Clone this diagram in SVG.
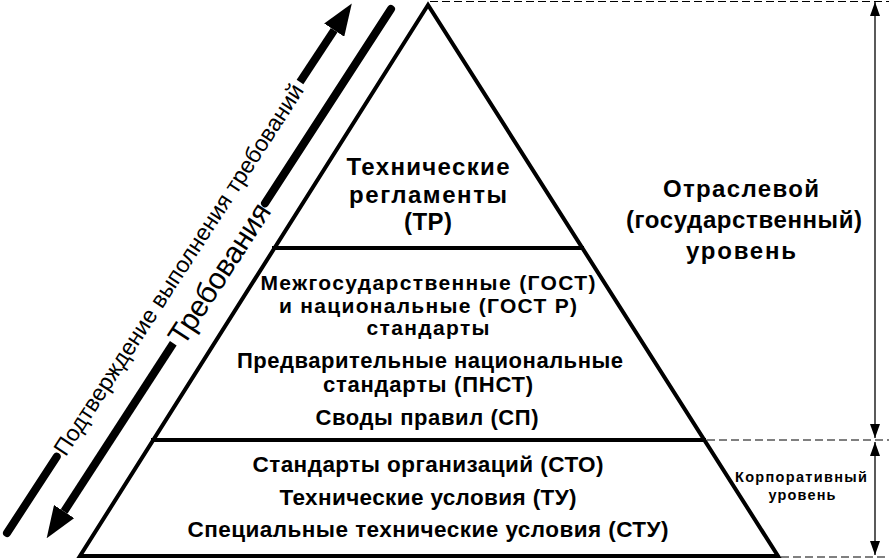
<svg xmlns="http://www.w3.org/2000/svg" width="889" height="560" viewBox="0 0 889 560">
<style>
  .t { font-family: "Liberation Sans", Arial, sans-serif; font-weight: bold; fill: #000; text-anchor: middle; }
  .r { font-family: "Liberation Sans", Arial, sans-serif; font-weight: normal; fill: #000; text-anchor: middle; }
  .edge { fill: none; stroke: #000; stroke-width: 4; stroke-linejoin: miter; }
  .thick { fill: none; stroke: #000; stroke-width: 8; }
  .dim { fill: none; stroke: #000; stroke-width: 1.3; }
  .dash { fill: none; stroke: #000; stroke-width: 1; stroke-dasharray: 8 4; }
</style>
<defs>
  <marker id="bigHead" markerUnits="userSpaceOnUse" viewBox="0 0 32 24" markerWidth="32" markerHeight="24" refX="0" refY="12" orient="auto">
    <path d="M0,0 L32,12 L0,24 z" fill="#000"/>
  </marker>
  <marker id="dimHead" markerUnits="userSpaceOnUse" viewBox="0 0 14 10" markerWidth="14" markerHeight="10" refX="14" refY="5" orient="auto-start-reverse">
    <path d="M0,0 L14,5 L0,10 z" fill="#000"/>
  </marker>
</defs>
<rect width="889" height="560" fill="#fff"/>

<g id="pyramid">
  <path class="edge" d="M428,5 L80,556 L778,556 Z"/>
  <line class="edge" x1="272" y1="248" x2="584" y2="248"/>
  <line class="edge" x1="151" y1="440" x2="706" y2="440"/>
</g>

<g id="tier-tr">
  <text class="t" font-size="24" x="428" y="175" textLength="163">Технические</text>
  <text class="t" font-size="24" x="428" y="203" textLength="158">регламенты</text>
  <text class="t" font-size="24" x="428" y="230" textLength="48">(ТР)</text>
</g>

<g id="tier-gost">
  <text class="t" font-size="21" x="428" y="290" textLength="335">Межгосударственные (ГОСТ)</text>
  <text class="t" font-size="21" x="428" y="313" textLength="298">и национальные (ГОСТ Р)</text>
  <text class="t" font-size="21" x="428" y="335" textLength="123">стандарты</text>
  <text class="t" font-size="22" x="430" y="368" textLength="386">Предварительные национальные</text>
  <text class="t" font-size="22" x="428" y="392" textLength="210">стандарты (ПНСТ)</text>
  <text class="t" font-size="22" x="427" y="425" textLength="223">Своды правил (СП)</text>
</g>

<g id="tier-sto">
  <text class="t" font-size="22.5" x="428" y="472" textLength="351">Стандарты организаций (СТО)</text>
  <text class="t" font-size="22.5" x="428" y="505" textLength="297">Технические условия (ТУ)</text>
  <text class="t" font-size="22.5" x="428" y="537" textLength="481">Специальные технические условия (СТУ)</text>
</g>

<g id="level-state">
  <text class="t" font-size="24" x="741" y="197" textLength="156">Отраслевой</text>
  <text class="t" font-size="24" x="744" y="228" textLength="236">(государственный)</text>
  <text class="t" font-size="24" x="741" y="259" textLength="110">уровень</text>
</g>

<g id="level-corp">
  <text class="t" font-size="14.5" x="801" y="482" textLength="132">Корпоративный</text>
  <text class="t" font-size="14.5" x="802" y="500" textLength="67">уровень</text>
</g>

<g id="label-confirm">
  <text class="r" font-size="23" dy="0.35em" textLength="438" transform="translate(178.4,269.4) rotate(-56.95)">Подтверждение выполнения требований</text>
</g>
<g id="label-req">
  <text class="r" font-size="30" dy="0.35em" textLength="162" transform="translate(219.2,273.3) rotate(-56.95)">Требования</text>
</g>

<g id="connectors">
  <line class="thick" stroke-linecap="round" x1="7" y1="533" x2="56.7" y2="456.7"/>
  <line class="thick" x1="300" y1="82" x2="334.2" y2="30.1" marker-end="url(#bigHead)"/>
  <line class="thick" stroke-linecap="round" x1="391" y1="9" x2="265" y2="203.3"/>
  <line class="thick" x1="173.3" y1="343.3" x2="64.1" y2="511.5" marker-end="url(#bigHead)"/>

  <line class="dash" x1="430" y1="1.5" x2="889" y2="1.5"/>
  <line class="dash" x1="707" y1="440" x2="889" y2="440"/>
  <line class="dash" x1="781" y1="557" x2="889" y2="557"/>
  <line class="dim" x1="875" y1="2" x2="875" y2="438" marker-start="url(#dimHead)" marker-end="url(#dimHead)"/>
  <line class="dim" x1="875" y1="442" x2="875" y2="555" marker-start="url(#dimHead)" marker-end="url(#dimHead)"/>
</g>
</svg>
